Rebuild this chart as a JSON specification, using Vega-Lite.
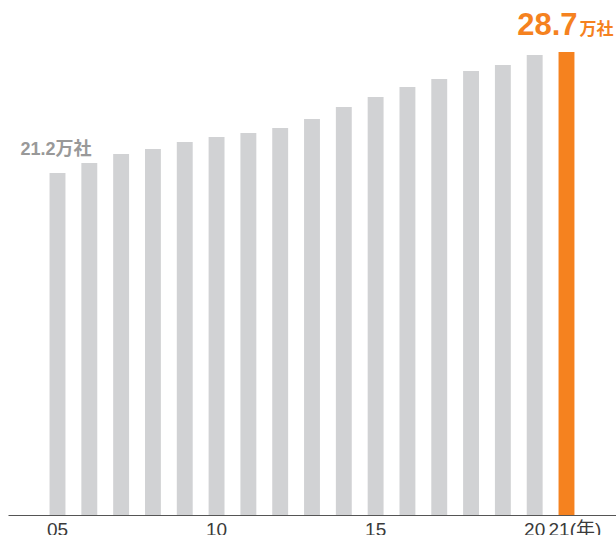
{
  "$schema": "https://vega.github.io/schema/vega-lite/v6.json",
  "width": 608,
  "height": 515,
  "padding": {"left": 8, "top": 0, "right": 0, "bottom": 20},
  "autosize": {"type": "none"},
  "background": "white",
  "config": {"view": {"stroke": null}, "font": "Liberation Sans, Noto Sans CJK JP"},
  "data": {
    "values": [
      {"year": "2005", "value": 21.2, "highlight": "no", "label": "21.2万社"},
      {"year": "2006", "value": 21.82, "highlight": "no"},
      {"year": "2007", "value": 22.38, "highlight": "no"},
      {"year": "2008", "value": 22.69, "highlight": "no"},
      {"year": "2009", "value": 23.12, "highlight": "no"},
      {"year": "2010", "value": 23.43, "highlight": "no"},
      {"year": "2011", "value": 23.68, "highlight": "no"},
      {"year": "2012", "value": 23.99, "highlight": "no"},
      {"year": "2013", "value": 24.55, "highlight": "no"},
      {"year": "2014", "value": 25.29, "highlight": "no"},
      {"year": "2015", "value": 25.91, "highlight": "no"},
      {"year": "2016", "value": 26.53, "highlight": "no"},
      {"year": "2017", "value": 27.03, "highlight": "no"},
      {"year": "2018", "value": 27.53, "highlight": "no"},
      {"year": "2019", "value": 27.9, "highlight": "no"},
      {"year": "2020", "value": 28.52, "highlight": "no"},
      {"year": "2021", "value": 28.7, "highlight": "yes", "label": "28.7", "unit": "万社"}
    ]
  },
  "encoding": {
    "x": {
      "field": "year",
      "type": "ordinal",
      "scale": {
        "domain": ["2004", "2005", "2006", "2007", "2008", "2009", "2010", "2011", "2012", "2013", "2014", "2015", "2016", "2017", "2018", "2019", "2020", "2021", "2022"],
        "paddingInner": 0.5,
        "paddingOuter": 0.306
      },
      "axis": {
        "title": null,
        "ticks": false,
        "domainColor": "#555555",
        "domainWidth": 1,
        "labelAngle": 0,
        "labelFontSize": 19,
        "labelColor": "#3a3a3a",
        "labelPadding": 5,
        "labelOverlap": false,
        "labelBound": false,
        "labelFlush": false,
        "labelExpr": "datum.value == '2021' ? '21(年)' : (indexof(['2005','2010','2015','2020'], datum.value) >= 0 ? substring(datum.value, 2) : '')",
        "labelAlign": {"condition": {"test": "datum.value == '2021'", "value": "left"}, "value": "center"},
        "labelOffset": {"condition": {"test": "datum.value == '2021'", "value": -18}, "value": 0}
      }
    },
    "y": {
      "field": "value",
      "type": "quantitative",
      "scale": {"domain": [0, 31.93]},
      "axis": null
    }
  },
  "layer": [
    {
      "mark": {"type": "bar"},
      "encoding": {
        "color": {
          "field": "highlight",
          "type": "nominal",
          "scale": {"domain": ["no", "yes"], "range": ["#d1d2d4", "#f5821f"]},
          "legend": null
        }
      }
    },
    {
      "transform": [{"filter": "datum.year == '2005'"}],
      "mark": {"type": "text", "align": "left", "baseline": "alphabetic", "dx": -37, "dy": -18, "fontSize": 18, "fontWeight": "bold", "color": "#999999"},
      "encoding": {"text": {"field": "label"}}
    },
    {
      "transform": [{"filter": "datum.year == '2021'"}],
      "mark": {"type": "text", "align": "right", "baseline": "alphabetic", "dx": 11, "dy": -17, "fontSize": 31, "fontWeight": "bold", "color": "#f5821f"},
      "encoding": {"text": {"field": "label"}}
    },
    {
      "transform": [{"filter": "datum.year == '2021'"}],
      "mark": {"type": "text", "align": "left", "baseline": "alphabetic", "dx": 13, "dy": -17, "fontSize": 17, "fontWeight": "bold", "color": "#f5821f"},
      "encoding": {"text": {"field": "unit"}}
    }
  ]
}
